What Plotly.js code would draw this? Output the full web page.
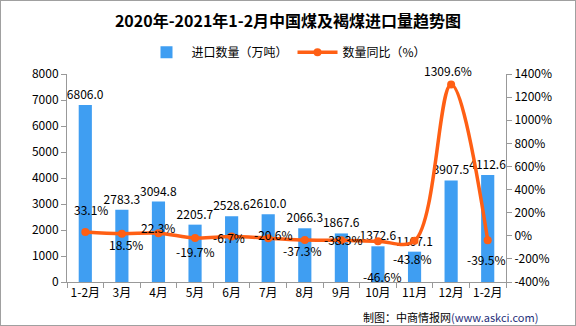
<!DOCTYPE html>
<html><head><meta charset="utf-8">
<script src="https://cdn.plot.ly/plotly-3.0.1.min.js"></script>
<style>html,body{margin:0;padding:0;background:#fff}#w{position:relative;width:576px;height:326px}#c{position:absolute;left:0;top:0;width:576px;height:326px}#b{position:absolute;left:0;top:0;width:576px;height:326px;box-sizing:border-box;border:1px solid #a0a0a0;pointer-events:none}</style>
</head><body><div id="w"><div id="c"></div><div id="b"></div></div>
<script>
var categories = ['1-2月','3月','4月','5月','6月','7月','8月','9月','10月','11月','12月','1-2月'];
var importVolume = [6806.0, 2783.3, 3094.8, 2205.7, 2528.6, 2610.0, 2066.3, 1867.6, 1372.6, 1167.1, 3907.5, 4112.6];
var yoyGrowth = [33.1, 18.5, 22.3, -19.7, -6.7, -20.6, -37.3, -38.3, -46.6, -43.8, 1309.6, -39.5];
var leftTicks = [0,1000,2000,3000,4000,5000,6000,7000,8000];
var rightTicks = [-400,-200,0,200,400,600,800,1000,1200,1400];
// label offsets (px) for the growth labels
var lblX = [6,4,0,0,-3,5,-2,2,5,-2,-3,-1];
var lblY = [22,-11,6,-13,-1,4,-10,1,-35,-18,14,-19];

var idx = categories.map(function(_,i){return i;});
var font = 'Noto Sans CJK SC, sans-serif';

var bars = {
  type:'bar', x:idx, y:importVolume, name:'进口数量（万吨）',
  marker:{color:'#3f9ef2'}, width:0.36,
  text:importVolume.map(function(v){return v.toFixed(1);}),
  textposition:'outside', constraintext:'none', textfont:{size:12,color:'#000',family:font},
  cliponaxis:false
};
var line = {
  type:'scatter', mode:'lines+markers', x:idx, y:yoyGrowth, yaxis:'y2',
  name:'数量同比（%）', line:{color:'#ff5f14',width:3.5,shape:'spline',smoothing:1},
  marker:{color:'#ff5f14',size:8}, cliponaxis:false
};
var ann = yoyGrowth.map(function(v,i){
  return {x:i, y:v, xref:'x', yref:'y2', text:v.toFixed(1)+'%', showarrow:false,
    xshift:lblX[i], yshift:lblY[i], font:{size:12,color:'#000',family:font}};
});
ann.push({xref:'paper',yref:'paper',x:1.077,y:-0.168,xanchor:'right',yanchor:'middle',showarrow:false,
  text:'制图：中商情报网<span style="color:#1f2f7a">(www.askci.com)</span>',font:{size:11,color:'#000',family:font}});

var layout = {
  width:576, height:326, margin:{l:67,r:70,t:74,b:44},
  paper_bgcolor:'rgba(0,0,0,0)', plot_bgcolor:'rgba(0,0,0,0)',
  title:{text:'<b>2020年-2021年1-2月中国煤及褐煤进口量趋势图</b>', font:{size:16,color:'#000',family:font}, x:0.5, xanchor:'center', y:0.935, yanchor:'middle'},
  showlegend:true,
  legend:{orientation:'h', x:0.5, xanchor:'center', y:1.105, yanchor:'middle', font:{size:12,color:'#000',family:font}, itemwidth:40, traceorder:'normal'},
  xaxis:{range:[-0.5,11.5], tickvals:idx, ticktext:categories, ticks:'', showgrid:false, zeroline:false,
    showline:true, linecolor:'#999', linewidth:1, tickfont:{size:12,color:'#000',family:font},
    minor:{tickvals:idx.concat([11]).map(function(i){return i-0.5;}).concat([11.5]), ticks:'outside', ticklen:5, tickcolor:'#999', showgrid:false}},
  yaxis:{range:[0,8000], tickvals:leftTicks, ticks:'outside', ticklen:5, tickcolor:'#999', showgrid:false, zeroline:false,
    showline:true, linecolor:'#999', tickfont:{size:12,color:'#000',family:font}},
  yaxis2:{range:[-400,1400], tickvals:rightTicks, ticktext:rightTicks.map(function(t){return t+'%';}), overlaying:'y', side:'right',
    ticks:'outside', ticklen:5, tickcolor:'#999', showgrid:false, zeroline:false, showline:true, linecolor:'#999',
    tickfont:{size:12,color:'#000',family:font}},
  annotations:ann
};
Plotly.newPlot('c',[bars,line],layout,{displayModeBar:false,staticPlot:true});
</script></body></html>
